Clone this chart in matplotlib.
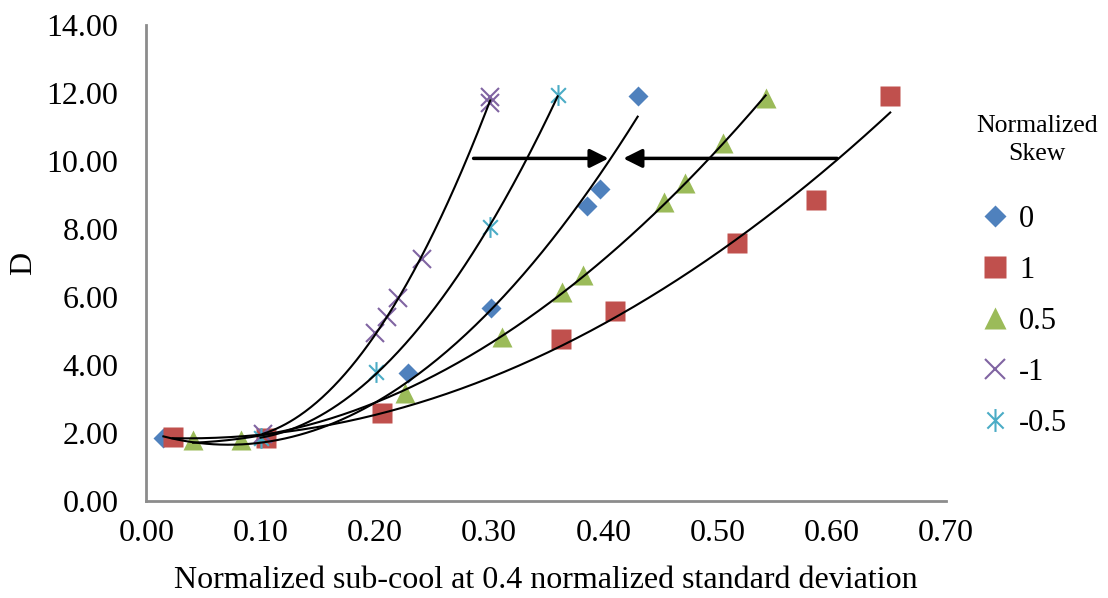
import matplotlib.pyplot as plt
import numpy as np
from matplotlib.path import Path

plt.rcParams['font.family'] = ['Liberation Serif', 'DejaVu Serif']

# data (x = normalized sub-cool, y = D)
x_s0 = [0.015, 0.229, 0.302, 0.386, 0.397, 0.430]
y_s0 = [1.85, 3.76, 5.68, 8.68, 9.18, 11.91]

x_s1 = [0.023, 0.105, 0.206, 0.363, 0.410, 0.517, 0.586, 0.651]
y_s1 = [1.88, 1.85, 2.59, 4.76, 5.59, 7.59, 8.85, 11.91]

x_s05 = [0.041, 0.083, 0.226, 0.311, 0.364, 0.382, 0.453, 0.471, 0.505, 0.542]
y_s05 = [1.79, 1.79, 3.18, 4.82, 6.15, 6.65, 8.79, 9.35, 10.53, 11.85]

x_sm1 = [0.102, 0.200, 0.211, 0.220, 0.241, 0.301, 0.301]
y_sm1 = [1.97, 4.94, 5.41, 5.97, 7.12, 11.70, 11.90]

x_sm05 = [0.100, 0.201, 0.301, 0.360]
y_sm05 = [1.85, 3.79, 8.06, 11.94]

labels = ['0', '1', '0.5', '-1', '-0.5']
colors = ['#4F81BD', '#C0504D', '#9BBB59', '#8064A2', '#4BACC6']

# excel style asterisk: x with a vertical bar
c = 0.5 * np.sqrt(0.5)
asterisk = Path([(0, -0.5), (0, 0.5), (-c, -c), (c, c), (-c, c), (c, -c)],
                [Path.MOVETO, Path.LINETO, Path.MOVETO, Path.LINETO, Path.MOVETO, Path.LINETO])

fig = plt.figure(figsize=(11.08, 5.98), dpi=100)
ax = fig.add_axes([0.132, 0.162, 0.722, 0.796])

series = [(x_s0, y_s0), (x_s1, y_s1), (x_s05, y_s05), (x_sm1, y_sm1), (x_sm05, y_sm05)]
styles = [dict(marker='D', ms=10, mec='none'),
          dict(marker='s', ms=14, mec='none'),
          dict(marker='^', ms=14, mec='none'),
          dict(marker='x', ms=13, mew=1.5),
          dict(marker=asterisk, ms=15, mew=1.5)]

for (xs, ys), lab, col, st in zip(series, labels, colors, styles):
    ax.plot(xs, ys, ls='none', color=col, label=lab, **st)

# 2nd order polynomial trendlines
for xs, ys in series:
    p = np.polyfit(xs, ys, 2)
    xx = np.linspace(min(xs), max(xs), 200)
    ax.plot(xx, np.polyval(p, xx), color='black', lw=1.5, zorder=3)

# arrows
ax.annotate('', xy=(0.407, 10.08), xytext=(0.284, 10.08),
            arrowprops=dict(arrowstyle='-|>', color='black', lw=2.5, mutation_scale=28))
ax.annotate('', xy=(0.415, 10.08), xytext=(0.607, 10.08),
            arrowprops=dict(arrowstyle='-|>', color='black', lw=2.5, mutation_scale=28))

ax.set_xlim(0, 0.70)
ax.set_ylim(0, 14)
ax.set_xticks(np.arange(0, 0.71, 0.1))
ax.set_yticks(np.arange(0, 14.1, 2))
ax.set_xticklabels(['%.2f' % v for v in np.arange(0, 0.71, 0.1)])
ax.set_yticklabels(['%.2f' % v for v in np.arange(0, 14.1, 2)])
ax.tick_params(axis='both', length=0, labelsize=23)
ax.tick_params(axis='y', pad=20)
ax.tick_params(axis='x', pad=13)
for side in ['top', 'right']:
    ax.spines[side].set_visible(False)
for side in ['left', 'bottom']:
    ax.spines[side].set_color('#8C8C8C')
    ax.spines[side].set_linewidth(2)

ax.set_xlabel('Normalized sub-cool at 0.4 normalized standard deviation', fontsize=23, labelpad=13)
ax.set_ylabel('D', fontsize=23, labelpad=6)

# legend title drawn separately so its spacing can match
fig.text(1037 / 1108, 1 - 140 / 598, 'Normalized\nSkew', fontsize=18.5, ha='center', va='center',
         multialignment='center', linespacing=1.4)
leg = ax.legend(loc='upper left', bbox_to_anchor=(0.8535, 0.704),
                bbox_transform=fig.transFigure, frameon=False, fontsize=22, markerscale=1.1,
                handletextpad=0.1, labelspacing=0.72, handlelength=1.4, borderpad=0.4)

fig.savefig('out.png', dpi=100)
